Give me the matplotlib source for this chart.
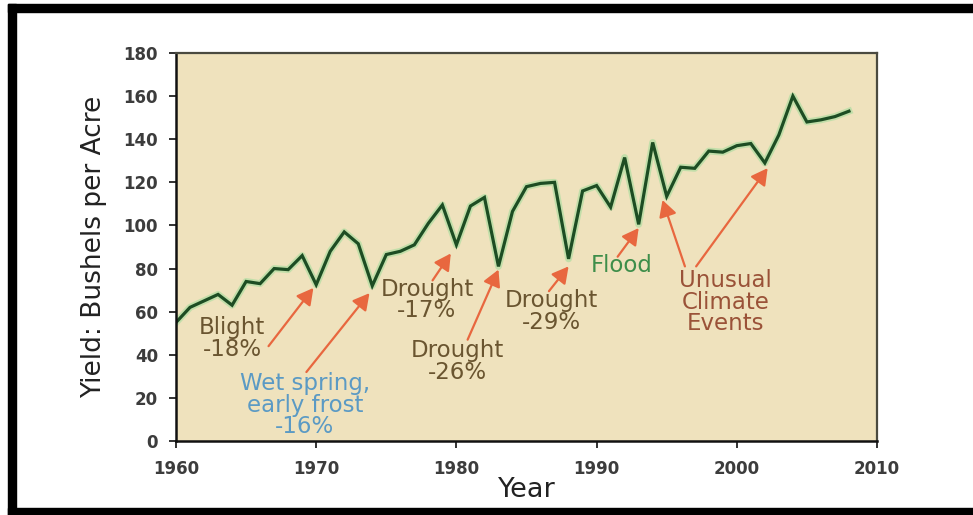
import matplotlib
matplotlib.use("Agg")
import matplotlib.pyplot as plt
import matplotlib.patheffects as pe
from matplotlib.patches import Rectangle

# yield, one point per year
years = list(range(1960, 2009))
yields = [55, 62, 65, 68, 63, 74, 73, 80, 79.5, 86,
          72.5, 88, 97, 91.5, 72, 86.5, 88, 91, 101, 109.5,
          91, 109, 113, 81, 106.5, 118, 119.5, 120, 84.5, 116,
          118.5, 108.5, 131.5, 100.5, 138.5, 113.5, 127, 126.5, 134.5, 134,
          137, 138, 129, 142, 160, 148, 149, 150.5, 153]

x_ticks = [1960, 1970, 1980, 1990, 2000, 2010]
y_ticks = [0, 20, 40, 60, 80, 100, 120, 140, 160, 180]

# annotations: text, text position, arrow start, arrow tip, colour
notes = ["Blight\n-18%", "Wet spring,\nearly frost\n-16%", "Drought\n-17%",
         "Drought\n-26%", "Drought\n-29%", "Flood", "Unusual\nClimate\nEvents"]
note_xy = [(1964.0, 47.5), (1969.2, 16.5), (1977.9, 65.5), (1980.1, 37),
           (1986.8, 60.2), (1991.8, 81.6), (1999.2, 64.3)]
note_colors = ["#6a5530", "#5b9ac4", "#6a5530", "#6a5530", "#6a5530",
               "#3e8e4a", "#9a5238"]
arrow_from = [(1966.6, 44), (1969.3, 32), (1978.3, 74.5), (1980.8, 47),
              (1986.6, 69.5), (1991.5, 85.5), (1996.3, 81), (1997.1, 81)]
arrow_to = [(1969.8, 71), (1973.8, 68.6), (1979.6, 87), (1983.0, 79.5),
            (1988.0, 81), (1993.0, 98.8), (1994.7, 111.8), (2002.2, 126.6)]

plt.rcParams['font.family'] = ['DejaVu Sans']

fig = plt.figure(figsize=(9.73, 5.15), dpi=100)
ax = fig.add_axes([176 / 973, 74 / 515, 701 / 973, 388 / 515])
ax.set_facecolor('#efe2bd')

ax.plot(years, yields, color='#1d4d23', lw=2.3, solid_joinstyle='miter',
        path_effects=[pe.Stroke(linewidth=5, foreground='#9edc9a', alpha=0.55,
                                joinstyle='round'), pe.Normal()])

for txt, xy, c in zip(notes, note_xy, note_colors):
    ax.text(xy[0], xy[1], txt, color=c, fontsize=16.5, ha='center', va='center',
            linespacing=0.92)

for a, b in zip(arrow_from, arrow_to):
    ax.annotate("", xy=b, xytext=a,
                arrowprops=dict(arrowstyle='-|>,head_length=0.55,head_width=0.3',
                                color='#e8673f', lw=1.6, mutation_scale=18,
                                shrinkA=0, shrinkB=0))

ax.set_xlim(1960, 2010)
ax.set_ylim(0, 180)
ax.set_xticks(x_ticks)
ax.set_yticks(y_ticks)
ax.tick_params(axis='both', direction='out', length=5, width=1.3,
               labelsize=12, labelcolor='#3c3c3c', color='#222222')
ax.tick_params(axis='y', pad=8)
ax.tick_params(axis='x', pad=9)
for lab in ax.get_xticklabels() + ax.get_yticklabels():
    lab.set_fontweight('bold')

for side in ['left', 'bottom']:
    ax.spines[side].set_color('#111111')
    ax.spines[side].set_linewidth(1.8)
for side in ['top', 'right']:
    ax.spines[side].set_color('#4a4a40')
    ax.spines[side].set_linewidth(1.6)

ax.set_xlabel('Year', fontsize=19.5, color='#222222', labelpad=-1)
ax.set_ylabel('Yield: Bushels per Acre', fontsize=19, color='#222222', labelpad=12)

# black frame round the picture (top, left, bottom)
H = 515.0
W = 973.0
fig.patches.append(Rectangle((8 / W, (H - 12) / H), 1, 8 / H, color='black',
                             transform=fig.transFigure, zorder=10))
fig.patches.append(Rectangle((8 / W, 0), 8 / W, (H - 4) / H, color='black',
                             transform=fig.transFigure, zorder=10))
fig.patches.append(Rectangle((8 / W, 0), 1, 7 / H, color='black',
                             transform=fig.transFigure, zorder=10))

fig.savefig('out.png', dpi=100, facecolor='white')
